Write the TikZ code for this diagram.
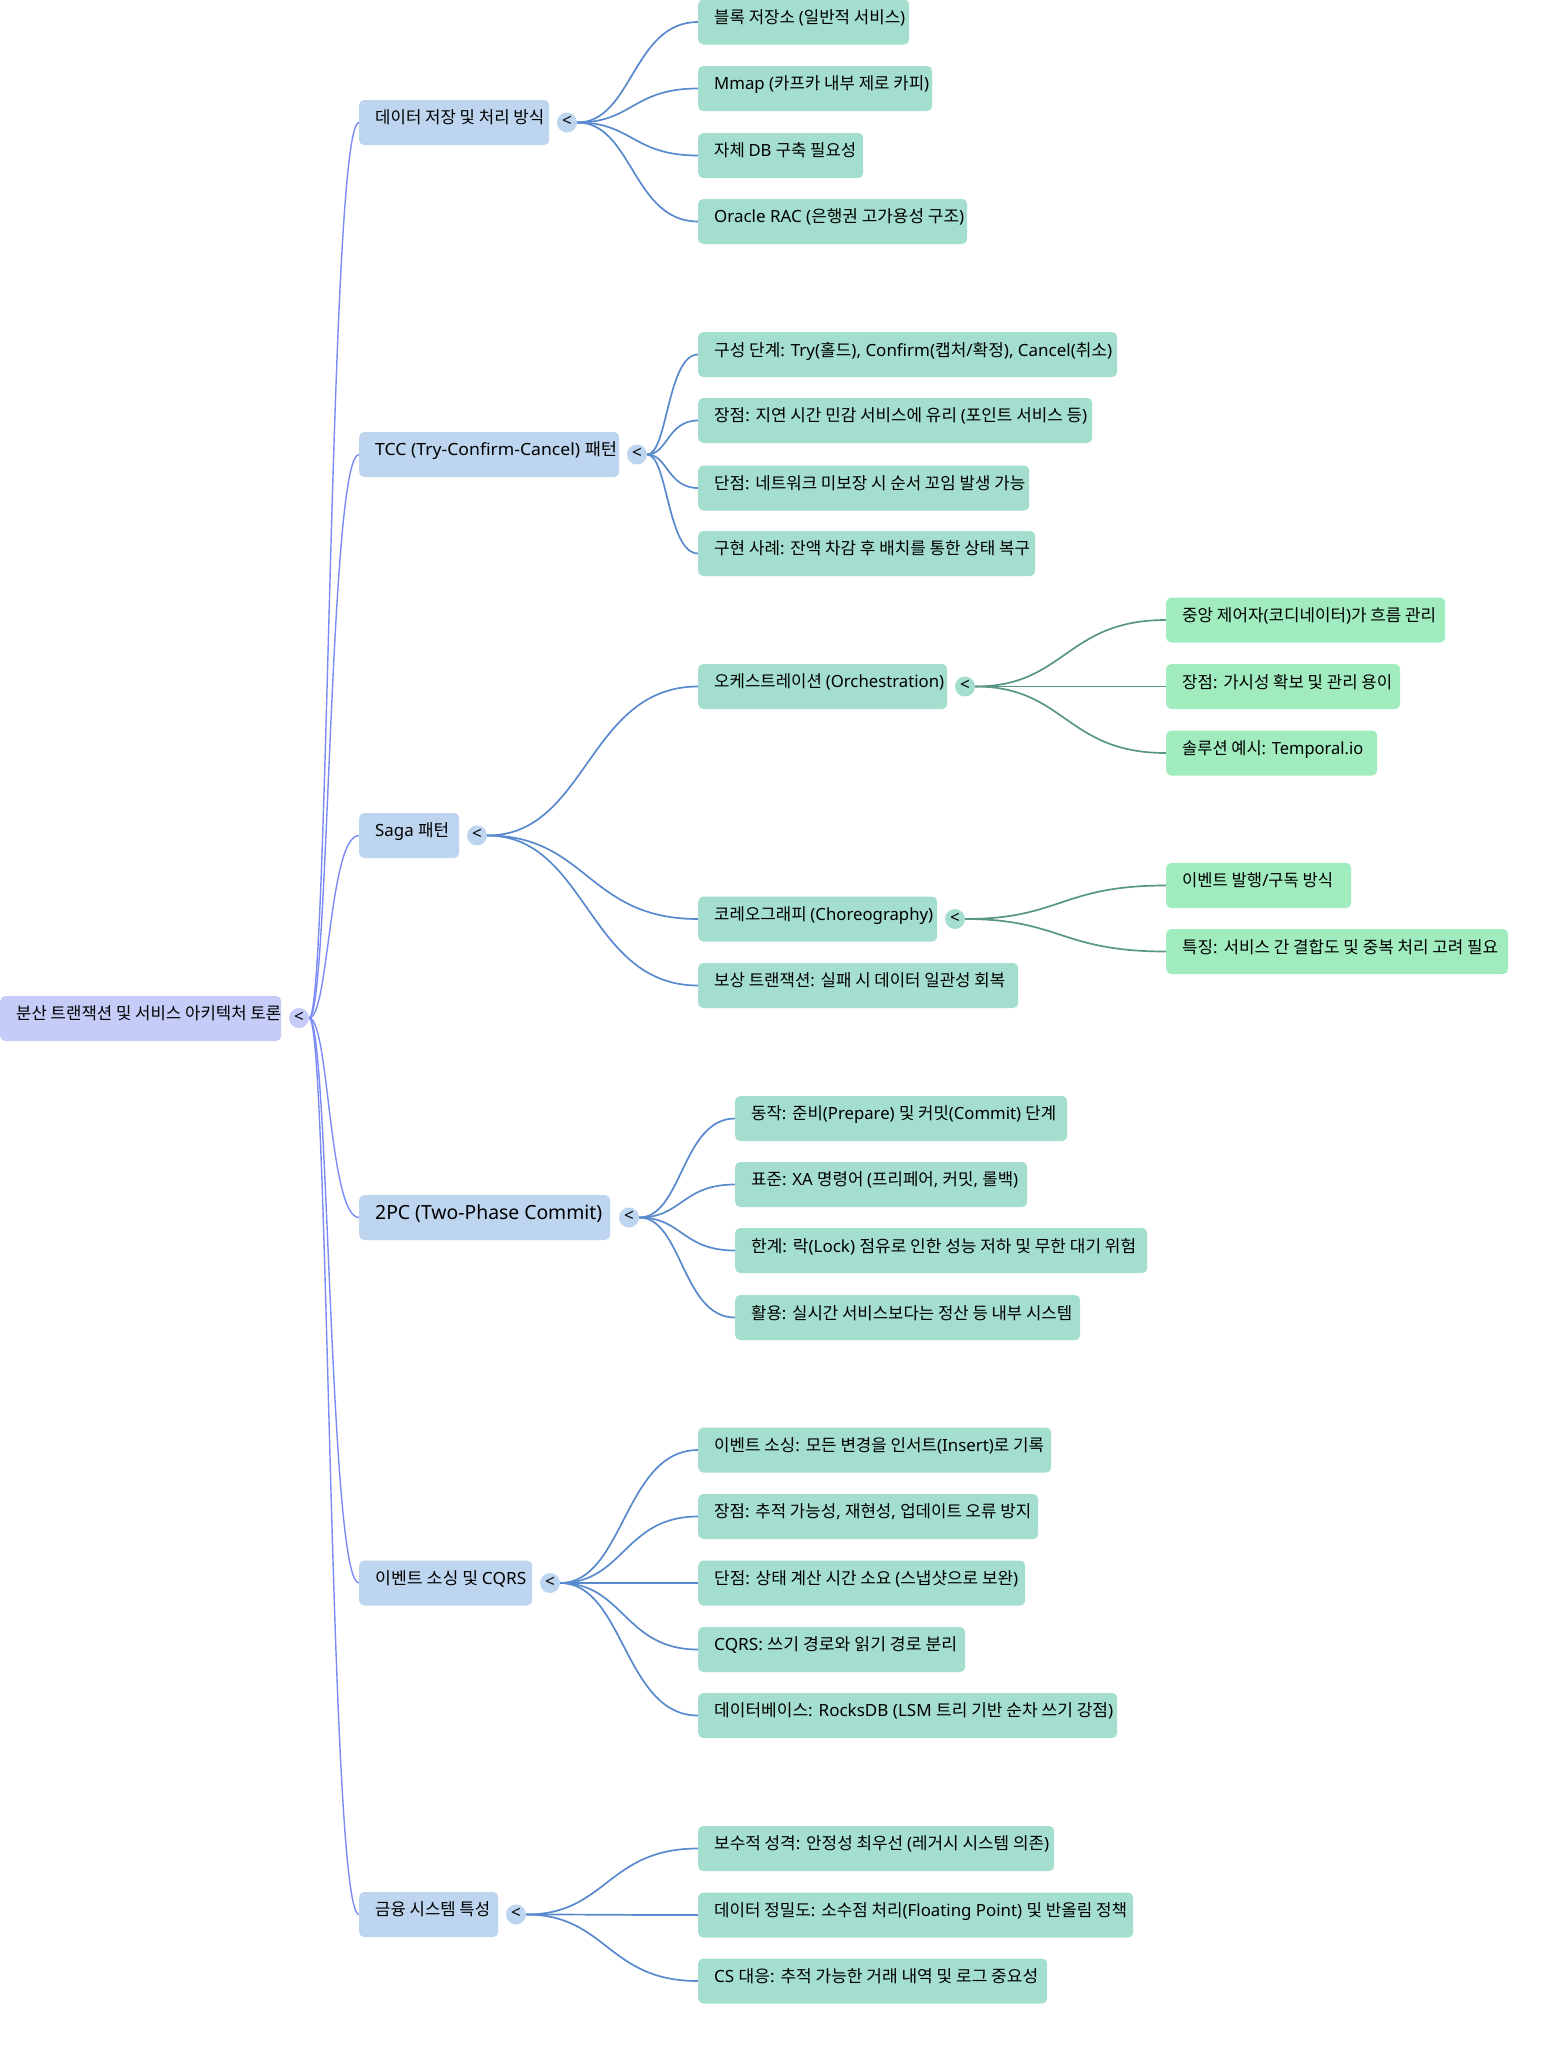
\documentclass[tikz,border=0pt]{standalone}
\usepackage{fontspec}
\usepackage{graphicx}
\setmainfont{Noto Sans}
\newfontfamily\korf{Noto Sans CJK KR}
\XeTeXinterchartokenstate=1
\newXeTeXintercharclass\hangulcls
\count255="AC00
\loop
  \XeTeXcharclass\count255=\hangulcls
  \ifnum\count255<"D7A3 \advance\count255 by 1 \repeat
\XeTeXinterchartoks 0 \hangulcls = {\korf}
\XeTeXinterchartoks 4095 \hangulcls = {\korf}
\XeTeXinterchartoks \hangulcls 0 = {\rmfamily}
\XeTeXinterchartoks 4095 0 = {\rmfamily}
\usetikzlibrary{calc}
\definecolor{rootc}{HTML}{C5CCF8}
\definecolor{lvone}{HTML}{BDD5EE}
\definecolor{lvtwo}{HTML}{A3DECE}
\definecolor{lvthree}{HTML}{A0ECBE}
\definecolor{ezero}{HTML}{7A8BF5}
\definecolor{eone}{HTML}{588ACD}
\definecolor{etwo}{HTML}{589687}
\pgfdeclarelayer{background}
\pgfsetlayers{background,main}
\newcommand\mmbox[7]{\node[#2, anchor=west] (#1) at (#3,#4) {\makebox[#5pt][l]{\hspace{16pt}\rule[-11pt]{0pt}{22pt}\resizebox{#6pt}{\height}{#7}}};}
\begin{document}
\begin{tikzpicture}[x=1pt,y=-1pt,
  mmb/.style={rectangle, rounded corners=5pt, fill=#1, inner sep=0pt, minimum height=45pt, text=black, font=\fontsize{16.8}{20}\selectfont},
  dotn/.style={circle, fill=#1, minimum size=20pt, inner sep=0pt, text=black, font=\fontsize{17}{17}\selectfont},
  ezs/.style={draw=ezero, line width=1.4pt},
  eos/.style={draw=eone, line width=1.7pt},
  ets/.style={draw=etwo, line width=1.7pt},
  hl/.style={to path={let \p1=(\tikztostart), \p2=(\tikztotarget) in .. controls ({(\x1+\x2)/2},\y1) and ({(\x1+\x2)/2},\y2) .. (\tikztotarget)}}]
\useasboundingbox (0,0) rectangle (1551,2048);

% root
\mmbox{root}{mmb=rootc}{0}{1018.5}{281}{265}{분산 트랜잭션 및 서비스 아키텍처 토론}
\node[dotn=rootc] (rc) at (299,1018) {\raisebox{1.5pt}{<}};

% level 1
\mmbox{a}{mmb=lvone}{359}{122.5}{190}{169}{데이터 저장 및 처리 방식}
\node[dotn=lvone] (ac) at (567,122.5) {\raisebox{1.5pt}{<}};
\mmbox{b}{mmb=lvone}{359}{454.5}{260}{242}{TCC (Try-Confirm-Cancel) 패턴}
\node[dotn=lvone] (bc) at (637,454.5) {\raisebox{1.5pt}{<}};
\mmbox{c}{mmb=lvone}{359}{835.5}{100}{74}{Saga 패턴}
\node[dotn=lvone] (cc) at (477,835.5) {\raisebox{1.5pt}{<}};
\mmbox{d}{mmb=lvone, font=\fontsize{19.5}{22}\selectfont}{359}{1217.5}{251}{227}{2PC (Two-Phase Commit)}
\node[dotn=lvone] (dc) at (629,1217.5) {\raisebox{1.5pt}{<}};
\mmbox{e}{mmb=lvone}{359}{1583}{173}{151}{이벤트 소싱 및 CQRS}
\node[dotn=lvone] (ec) at (550,1583) {\raisebox{1.5pt}{<}};
\mmbox{f}{mmb=lvone}{359}{1914.5}{139}{115}{금융 시스템 특성}
\node[dotn=lvone] (fc) at (516,1914.5) {\raisebox{1.5pt}{<}};

% level 2: storage
\mmbox{a1}{mmb=lvtwo}{698}{22}{211}{191}{블록 저장소 (일반적 서비스)}
\mmbox{a2}{mmb=lvtwo}{698}{88.5}{234}{215}{Mmap (카프카 내부 제로 카피)}
\mmbox{a3}{mmb=lvtwo}{698}{155.5}{165}{142}{자체 DB 구축 필요성}
\mmbox{a4}{mmb=lvtwo}{698}{221.5}{269}{250}{Oracle RAC (은행권 고가용성 구조)}
% TCC
\mmbox{b1}{mmb=lvtwo}{698}{354.5}{419}{398}{구성 단계: Try(홀드), Confirm(캡처/확정), Cancel(취소)}
\mmbox{b2}{mmb=lvtwo}{698}{420.5}{394}{373}{장점: 지연 시간 민감 서비스에 유리 (포인트 서비스 등)}
\mmbox{b3}{mmb=lvtwo}{698}{488}{331}{311}{단점: 네트워크 미보장 시 순서 꼬임 발생 가능}
\mmbox{b4}{mmb=lvtwo}{698}{553.5}{337}{316}{구현 사례: 잔액 차감 후 배치를 통한 상태 복구}
% Saga
\mmbox{c1}{mmb=lvtwo}{698}{686.5}{249}{230}{오케스트레이션 (Orchestration)}
\node[dotn=lvtwo] (c1c) at (965,686.5) {\raisebox{1.5pt}{<}};
\mmbox{c2}{mmb=lvtwo}{698}{919}{239}{219}{코레오그래피 (Choreography)}
\node[dotn=lvtwo] (c2c) at (955,919) {\raisebox{1.5pt}{<}};
\mmbox{c3}{mmb=lvtwo}{698}{985.5}{320}{291}{보상 트랜잭션: 실패 시 데이터 일관성 회복}
% 2PC
\mmbox{d1}{mmb=lvtwo}{735}{1118.5}{332}{305}{동작: 준비(Prepare) 및 커밋(Commit) 단계}
\mmbox{d2}{mmb=lvtwo}{735}{1184.5}{292}{267}{표준: XA 명령어 (프리페어, 커밋, 롤백)}
\mmbox{d3}{mmb=lvtwo}{735}{1250.5}{412}{385}{한계: 락(Lock) 점유로 인한 성능 저하 및 무한 대기 위험}
\mmbox{d4}{mmb=lvtwo}{735}{1317.5}{345}{321}{활용: 실시간 서비스보다는 정산 등 내부 시스템}
% Event sourcing
\mmbox{e1}{mmb=lvtwo}{698}{1450}{353}{330}{이벤트 소싱: 모든 변경을 인서트(Insert)로 기록}
\mmbox{e2}{mmb=lvtwo}{698}{1516.5}{340}{317}{장점: 추적 가능성, 재현성, 업데이트 오류 방지}
\mmbox{e3}{mmb=lvtwo}{698}{1583}{327}{304}{단점: 상태 계산 시간 소요 (스냅샷으로 보완)}
\mmbox{e4}{mmb=lvtwo}{698}{1649.5}{267}{243}{CQRS: 쓰기 경로와 읽기 경로 분리}
\mmbox{e5}{mmb=lvtwo}{698}{1715.5}{419}{399}{데이터베이스: RocksDB (LSM 트리 기반 순차 쓰기 강점)}
% Finance
\mmbox{f1}{mmb=lvtwo}{698}{1848.5}{356}{335}{보수적 성격: 안정성 최우선 (레거시 시스템 의존)}
\mmbox{f2}{mmb=lvtwo}{698}{1915}{435}{413}{데이터 정밀도: 소수점 처리(Floating Point) 및 반올림 정책}
\mmbox{f3}{mmb=lvtwo}{698}{1981}{349}{324}{CS 대응: 추적 가능한 거래 내역 및 로그 중요성}

% level 3
\mmbox{g1}{mmb=lvthree}{1166}{620}{279}{254}{중앙 제어자(코디네이터)가 흐름 관리}
\mmbox{g2}{mmb=lvthree}{1166}{686.5}{234}{210}{장점: 가시성 확보 및 관리 용이}
\mmbox{g3}{mmb=lvthree}{1166}{753}{211}{181}{솔루션 예시: Temporal.io}
\mmbox{h1}{mmb=lvthree}{1166}{885.5}{185}{151}{이벤트 발행/구독 방식}
\mmbox{h2}{mmb=lvthree}{1166}{951.5}{342}{316}{특징: 서비스 간 결합도 및 중복 처리 고려 필요}

\begin{pgfonlayer}{background}
\fill[white] (0,0) rectangle (1551,2048);
\foreach \t in {a,b,c,d,e,f} \draw[ezs] (rc) to[hl] (\t.west);
\foreach \t in {a1,a2,a3,a4} \draw[eos] (ac) to[hl] (\t.west);
\foreach \t in {b1,b2,b3,b4} \draw[eos] (bc) to[hl] (\t.west);
\foreach \t in {c1,c2,c3} \draw[eos] (cc) to[hl] (\t.west);
\foreach \t in {d1,d2,d3,d4} \draw[eos] (dc) to[hl] (\t.west);
\foreach \t in {e1,e2,e3,e4,e5} \draw[eos] (ec) to[hl] (\t.west);
\foreach \t in {f1,f2,f3} \draw[eos] (fc) to[hl] (\t.west);
\foreach \t in {g1,g2,g3} \draw[ets] (c1c) to[hl] (\t.west);
\foreach \t in {h1,h2} \draw[ets] (c2c) to[hl] (\t.west);
\end{pgfonlayer}
\end{tikzpicture}
\end{document}
